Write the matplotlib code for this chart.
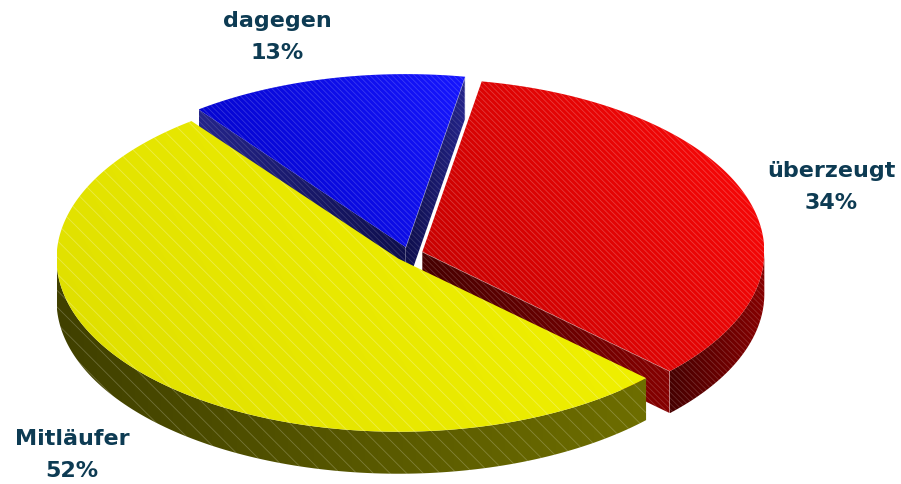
import numpy as np
import matplotlib
matplotlib.use('Agg')
import matplotlib.pyplot as plt
from matplotlib.patches import Polygon
from matplotlib.colors import to_rgb

# --- Daten ---
labels = ['überzeugt', 'Mitläufer', 'dagegen']
values = [34, 52, 13]
top_light = ['#ff0808', '#f4f400', '#1616ff']
top_dark = ['#c00000', '#dede00', '#0000c4']
side_light = ['#860000', '#6e6e00', '#24248a']
side_dark = ['#460000', '#404000', '#0e0e4c']
hatches = ['\\\\\\\\\\\\', '\\\\', '\\\\\\\\\\\\']
halpha = [0.22, 0.28, 0.18]
explode = 0.041

# Geometrie des Kuchens (Pixel)
cx, cy = 409, 255
A, B, D = 342, 173, 42
rot = 10  # Grad im Uhrzeigersinn ab 12 Uhr

plt.rcParams['hatch.linewidth'] = 0.6

fig = plt.figure(figsize=(9.01, 4.85), dpi=100)
ax = fig.add_axes([0, 0, 1, 1])
ax.set_axis_off()

z = [1]


def rim(th, ox, oy, dz=0):
    th = np.radians(th)
    return np.column_stack([ox + A * np.sin(th), oy - B * np.cos(th) + dz])


def shade(xy, c1, c2, vec, hatch=None, ha=0.2):
    # Fläche mit linearem Farbverlauf, per clip_path auf das Polygon beschnitten
    poly = Polygon(xy, closed=True, facecolor='none', edgecolor='none', lw=0, zorder=z[0])
    ax.add_patch(poly)
    x0, y0 = xy.min(0)
    x1, y1 = xy.max(0)
    gx, gy = np.meshgrid(np.linspace(x0, x1, 200), np.linspace(y0, y1, 200))
    t = gx * vec[0] + gy * vec[1]
    t = (t - t.min()) / max(t.max() - t.min(), 1e-9)
    rgb = (1 - t)[..., None] * np.array(to_rgb(c1)) + t[..., None] * np.array(to_rgb(c2))
    im = ax.imshow(rgb, extent=(x0, x1, y1, y0), origin='upper',
                   interpolation='bilinear', zorder=z[0], aspect='auto')
    im.set_clip_path(poly)
    if hatch:
        ax.add_patch(Polygon(xy, closed=True, facecolor='none',
                             edgecolor=(1, 1, 1, ha), lw=0, hatch=hatch, zorder=z[0] + 0.5))
    z[0] += 1


total = sum(values)
bounds = rot + np.concatenate([[0], np.cumsum(values)]) / total * 360

slices = []
for i in range(len(values)):
    th0, th1 = bounds[i], bounds[i + 1]
    mid = np.radians((th0 + th1) / 2)
    ox = cx + explode * A * np.sin(mid)
    oy = cy - explode * B * np.cos(mid)
    slices.append((th0, th1, ox, oy))

# Zeichenreihenfolge: hinten -> vorne (dagegen, überzeugt, Mitläufer)
for i in [2, 0, 1]:
    th0, th1, ox, oy = slices[i]
    apex = np.array([ox, oy])
    down = np.array([0, D])

    # Schnittflächen
    if np.sin(np.radians(th0)) < 0:
        p = rim([th0], ox, oy)[0]
        shade(np.array([apex, p, p + down, apex + down]), side_light[i], side_dark[i],
              (1, 0), hatches[i], halpha[i] * 0.8)
    if np.sin(np.radians(th1)) > 0:
        p = rim([th1], ox, oy)[0]
        shade(np.array([apex, p, p + down, apex + down]), side_light[i], side_dark[i],
              (-1, 0), hatches[i], halpha[i] * 0.8)
        # helle Kante wie im Original
        ax.plot([apex[0], p[0], p[0]], [apex[1], p[1], p[1] + D], color='white',
                lw=0.8, alpha=0.55, zorder=z[0] - 0.2)

    # Mantel (nur vordere Hälfte sichtbar)
    a0, a1 = max(th0, 90), min(th1, 270)
    if a1 > a0:
        th = np.linspace(a0, a1, 120)
        upper = rim(th, ox, oy)
        lower = rim(th[::-1], ox, oy, D)
        vec = (1, 0) if i == 1 else (-1, 0)
        shade(np.vstack([upper, lower]), side_dark[i], side_light[i], vec if i == 1 else (1, 0),
              hatches[i], halpha[i] * 0.8)

    # Deckfläche
    th = np.linspace(th0, th1, 200)
    top = np.vstack([apex, rim(th, ox, oy)])
    shade(top, top_light[i], top_dark[i], (-1, 0.6), hatches[i], halpha[i])

# Beschriftungen
txt = dict(color='#0d3b53', fontsize=16, fontweight='bold', ha='center', va='center',
           linespacing=1.75, zorder=100)
ax.text(831, 187, f'{labels[0]}\n{values[0]}%', **txt)
ax.text(72, 455, f'{labels[1]}\n{values[1]}%', **txt)
ax.text(277, 37, f'{labels[2]}\n{values[2]}%', **txt)

ax.set_xlim(0, 901)
ax.set_ylim(485, 0)
fig.savefig('out.png', dpi=100)
